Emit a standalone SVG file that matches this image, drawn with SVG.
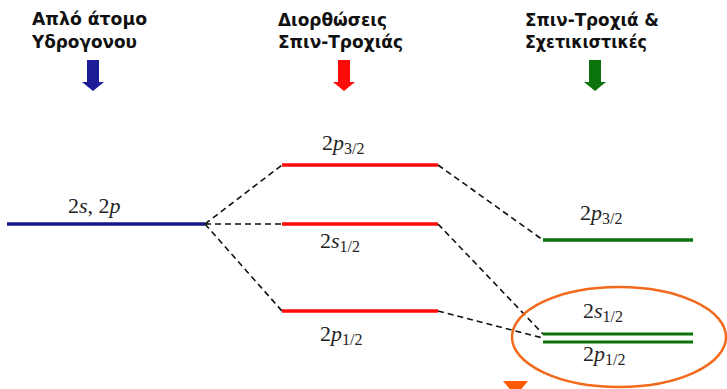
<svg xmlns="http://www.w3.org/2000/svg" width="727" height="389" viewBox="0 0 727 389">
<style>
.title{font-family:"DejaVu Sans","Noto Sans",sans-serif;font-size:17px;font-weight:bold;fill:#111}
.math{font-family:"Liberation Serif","DejaVu Serif",serif;font-size:22px;fill:#222}
.it{font-style:italic}
.sub{font-size:16px}
.lvl{stroke-width:3.5;fill:none}
.dash{stroke:#111;stroke-width:1.6;stroke-dasharray:6 4;fill:none}
</style>
<rect width="727" height="389" fill="#fff"/>
<g id="col1">
<text class="title" x="32" y="25" textLength="115" lengthAdjust="spacingAndGlyphs">Απλό άτομο</text>
<text class="title" x="32" y="48" textLength="105" lengthAdjust="spacingAndGlyphs">Υδρογονου</text>
<polygon points="87,60 99,60 99,82 104,82 93,91 82,82 87,82" fill="#1c1c96"/>
</g>
<g id="col2">
<text class="title" x="278" y="26" textLength="109" lengthAdjust="spacingAndGlyphs">Διορθώσεις</text>
<text class="title" x="278" y="48" textLength="125" lengthAdjust="spacingAndGlyphs">Σπιν-Τροχιάς</text>
<polygon points="338,60 350,60 350,82 355,82 344,91 333,82 338,82" fill="#ff0a0a"/>
</g>
<g id="col3">
<text class="title" x="525" y="26" textLength="134" lengthAdjust="spacingAndGlyphs">Σπιν-Τροχιά &amp;</text>
<text class="title" x="525" y="48" textLength="122" lengthAdjust="spacingAndGlyphs">Σχετικιστικές</text>
<polygon points="589,60 601,60 601,82 606,82 595,91 584,82 589,82" fill="#0b730b"/>
</g>
<g id="connectors">
<path class="dash" d="M205,224 L282,165 M205,224 L282,224 M205,224 L282,311 M438,165 L543,240 M438,224 L543,334 M438,311 L543,338"/>
</g>
<g id="level-2s2p">
<line class="lvl" x1="7" y1="224" x2="205" y2="224" stroke="#17178a"/>
<text class="math" x="68" y="213">2<tspan class="it">s</tspan>, 2<tspan class="it">p</tspan></text>
</g>
<g id="level-2p32-red">
<line class="lvl" x1="282" y1="165" x2="438" y2="165" stroke="#ff0a0a"/>
<text class="math" x="322" y="150">2<tspan class="it">p</tspan><tspan class="sub" dy="4">3/2</tspan></text>
</g>
<g id="level-2s12-red">
<line class="lvl" x1="282" y1="224" x2="438" y2="224" stroke="#ff0a0a"/>
<text class="math" x="320" y="248">2<tspan class="it">s</tspan><tspan class="sub" dy="4">1/2</tspan></text>
</g>
<g id="level-2p12-red">
<line class="lvl" x1="282" y1="311" x2="438" y2="311" stroke="#ff0a0a"/>
<text class="math" x="320" y="341">2<tspan class="it">p</tspan><tspan class="sub" dy="4">1/2</tspan></text>
</g>
<g id="level-2p32-green">
<line class="lvl" x1="543" y1="240" x2="693" y2="240" stroke="#0b730b"/>
<text class="math" x="580" y="220">2<tspan class="it">p</tspan><tspan class="sub" dy="4">3/2</tspan></text>
</g>
<g id="level-2s12-green">
<line x1="543" y1="334" x2="693" y2="334" stroke="#0b730b" stroke-width="3"/>
<text class="math" x="583" y="318">2<tspan class="it">s</tspan><tspan class="sub" dy="4">1/2</tspan></text>
</g>
<g id="level-2p12-green">
<line x1="543" y1="342" x2="693" y2="342" stroke="#0b730b" stroke-width="3"/>
<text class="math" x="583" y="361">2<tspan class="it">p</tspan><tspan class="sub" dy="4">1/2</tspan></text>
</g>
<g id="highlight">
<ellipse cx="619" cy="337" rx="107" ry="50" fill="none" stroke="#f26a1b" stroke-width="2.5"/>
<polygon points="503,381 528,381 515.5,396" fill="#ff5a00"/>
</g>
</svg>
